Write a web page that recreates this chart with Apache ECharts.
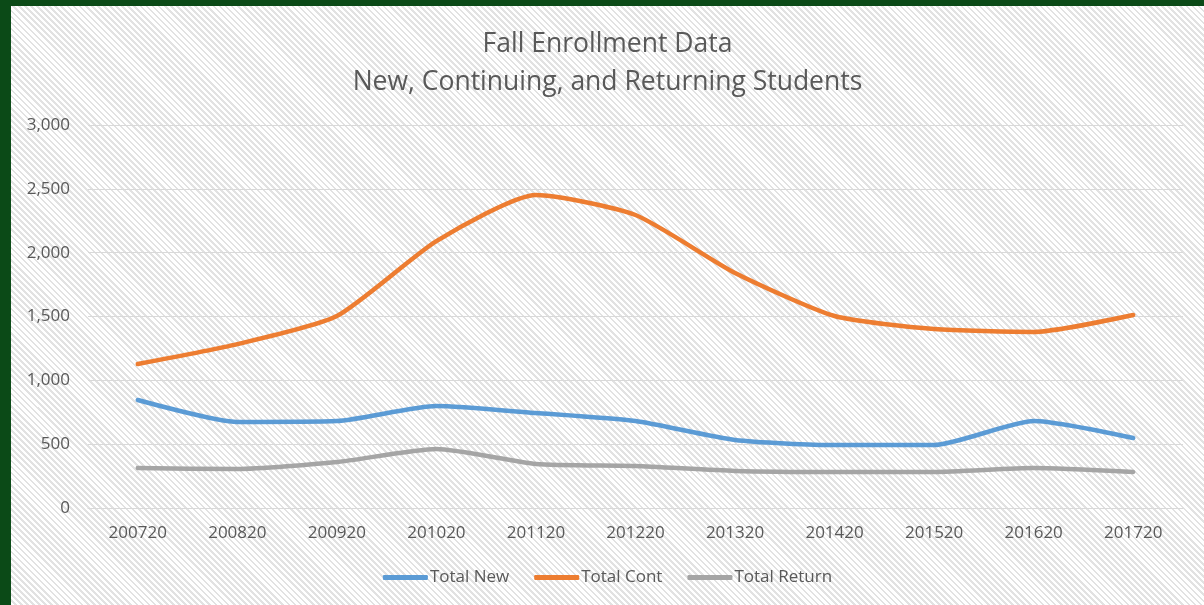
<!DOCTYPE html>
<html>
<head>
<meta charset="utf-8">
<script src="https://cdn.jsdelivr.net/npm/echarts@6/dist/echarts.min.js"></script>
<style>
  html,body{margin:0;padding:0;background:#fff;}
  .frame{
    width:1193px;height:599px;
    border-left:11px solid #0b4a17;
    border-top:6px solid #0b4a17;
    background:repeating-linear-gradient(45deg,#ffffff 0px,#ffffff 2.4px,#e2e2e2 2.4px,#e2e2e2 4.3px);
  }
  #chart{width:1193px;height:599px;}
</style>
</head>
<body>
<div class="frame"><div id="chart"></div></div>
<script>
// fall terms
const terms = ["200720","200820","200920","201020","201120","201220","201320","201420","201520","201620","201720"];
const totalNew    = [846, 674, 681, 799, 744, 681, 533, 493, 493, 681, 548];
const totalCont   = [1128, 1284, 1504, 2091, 2452, 2295, 1841, 1504, 1402, 1379, 1512];
const totalReturn = [313, 305, 360, 462, 345, 329, 290, 282, 282, 313, 282];

let myChart = echarts.init(document.getElementById("chart"));

function line(name, data, color){
  return {
    type:"line",
    name:name,
    data:data,
    smooth:0.2,
    symbol:"none",
    lineStyle:{width:4.5,color:color,cap:"round"},
    itemStyle:{color:color}
  };
}

myChart.setOption({
  textStyle:{fontFamily:"Open Sans"},
  title:{
    text:"Fall Enrollment Data\nNew, Continuing, and Returning Students",
    left:"center",
    top:15,
    textStyle:{fontSize:26.5,fontWeight:"normal",color:"#595959",lineHeight:37.5}
  },
  legend:{
    bottom:14,
    left:"center",
    icon:"roundRect",
    itemWidth:45,
    itemHeight:5,
    itemGap:25,
    textStyle:{fontSize:17,color:"#595959",padding:[0,0,0,-3]},
    data:["Total New","Total Cont","Total Return"]
  },
  grid:{
    left:77,
    right:21,
    top:119,
    bottom:97
  },
  xAxis:{
    type:"category",
    data:terms,
    boundaryGap:true,
    axisTick:{show:false},
    axisLine:{lineStyle:{color:"#d9d9d9",width:1}},
    axisLabel:{fontSize:17,color:"#595959",margin:17}
  },
  yAxis:{
    type:"value",
    min:0,
    max:3000,
    interval:500,
    axisLine:{show:false},
    axisTick:{show:false},
    splitLine:{lineStyle:{color:"#d9d9d9",width:1}},
    axisLabel:{
      fontSize:17,color:"#595959",margin:18,
      formatter:(v)=>v.toLocaleString("en-US")
    }
  },
  series:[
    line("Total New", totalNew, "#5b9bd5"),
    line("Total Cont", totalCont, "#ed7d31"),
    line("Total Return", totalReturn, "#a5a5a5")
  ]
});
</script>
</body>
</html>
